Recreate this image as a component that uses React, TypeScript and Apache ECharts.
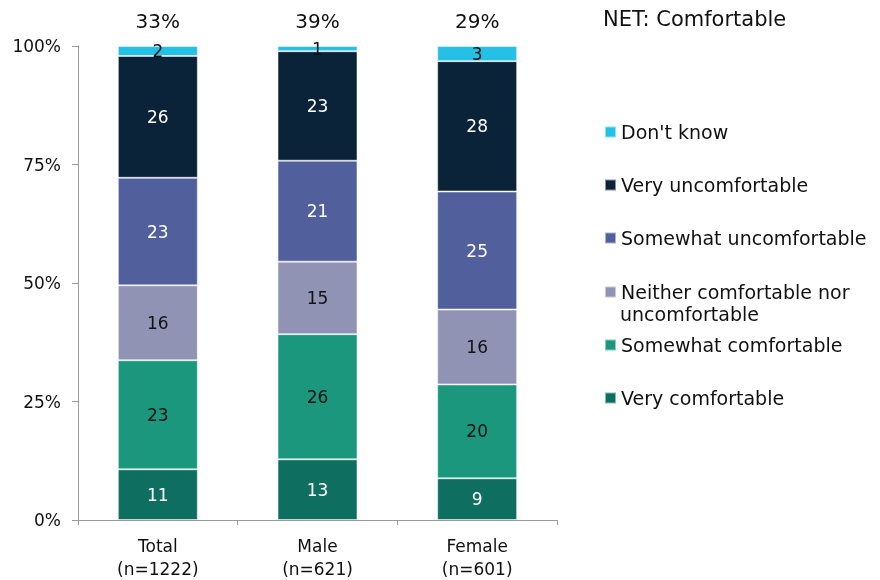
import React, { useEffect, useRef } from "react";
import * as echarts from "echarts";

const categories = ["Total\n(n=1222)", "Male\n(n=621)", "Female\n(n=601)"];
const seriesNames = [
  "Very comfortable",
  "Somewhat comfortable",
  "Neither comfortable nor uncomfortable",
  "Somewhat uncomfortable",
  "Very uncomfortable",
  "Don't know",
];
const veryComfortable = [10.7, 12.8, 8.8];
const somewhatComfortable = [23.0, 26.4, 19.8];
const neither = [15.8, 15.3, 15.8];
const somewhatUncomfortable = [22.7, 21.3, 24.9];
const veryUncomfortable = [25.7, 23.1, 27.5];
const dontKnow = [2.1, 1.1, 3.2];
const netComfortable = [33, 39, 29];
const yTicks = [0, 25, 50, 75, 100];

const colors = ["#0E6F60", "#1B977D", "#9093B3", "#51609C", "#0B2339", "#25C0E5"];
const labelColors = ["#ffffff", "#111111", "#111111", "#ffffff", "#ffffff", "#111111"];
const FONT = "'DejaVu Sans', sans-serif";

export default function App() {
  const ref = useRef<HTMLDivElement>(null);
  useEffect(() => {
    if (!ref.current) return;
    const chart = echarts.init(ref.current, undefined, { renderer: "svg" });
    const values = [veryComfortable, somewhatComfortable, neither, somewhatUncomfortable, veryUncomfortable, dontKnow];
    const barSeries = values.map((d, i) => ({
      name: seriesNames[i],
      type: "bar",
      stack: "total",
      barWidth: 80,
      data: d,
      itemStyle: { color: colors[i], borderColor: "rgba(255,255,255,0.5)", borderWidth: 1 },
      label: {
        show: true,
        position: "inside",
        color: labelColors[i],
        fontFamily: FONT,
        fontSize: 17,
        formatter: (p: any) => String(Math.round(p.value)),
      },
    }));
    const legendTops = [132, 185, 238, 292, 345, 398];
    const legendOrder = [5, 4, 3, 2, 1, 0];
    const legends = legendOrder.map((si, k) => ({
      data: [seriesNames[si]],
      left: 604,
      top: legendTops[k] - 11,
      orient: "vertical",
      padding: 0,
      itemWidth: 11,
      itemHeight: 11,
      itemGap: 5,
      icon: "rect",
      selectedMode: false,
      formatter: (n: string) => (n.startsWith("Neither") ? "Neither comfortable nor" : n),
      textStyle: { fontFamily: FONT, fontSize: 19, color: "#111", lineHeight: 22, padding: 0 },
    }));
    chart.setOption({
      animation: false,
      title: {
        text: "NET: Comfortable",
        left: 603,
        top: 8,
        padding: 0,
        textStyle: { fontFamily: FONT, fontSize: 21, fontWeight: "normal", color: "#111" },
      },
      legend: legends,
      graphic: [
        {
          type: "text",
          left: 620,
          top: 304,
          style: { text: "uncomfortable", font: `19px ${FONT}`, fill: "#111" },
        },
      ],
      grid: { left: 78, right: 323, top: 46, bottom: 59 },
      xAxis: {
        type: "category",
        data: categories,
        axisLine: { lineStyle: { color: "#9a9a9a", width: 1 } },
        axisTick: { show: true, length: 5, lineStyle: { color: "#9a9a9a" } },
        axisLabel: { fontFamily: FONT, fontSize: 17, color: "#111", lineHeight: 23, margin: 14 },
      },
      yAxis: {
        type: "value",
        min: 0,
        max: 100,
        interval: 25,
        axisLine: { show: true, lineStyle: { color: "#9a9a9a", width: 1 } },
        axisTick: { show: true, length: 6, lineStyle: { color: "#9a9a9a" } },
        splitLine: { show: false },
        axisLabel: {
          fontFamily: FONT,
          fontSize: 17,
          color: "#111",
          margin: 17,
          formatter: (v: number) => (yTicks.includes(v) ? `${v}%` : ""),
        },
      },
      series: [
        ...barSeries,
        {
          name: "NET",
          type: "scatter",
          data: categories.map(() => 100),
          symbolSize: 0,
          silent: true,
          itemStyle: { opacity: 1 },
          label: {
            show: true,
            position: "top",
            distance: 15,
            color: "#111",
            opacity: 1,
            fontFamily: FONT,
            fontSize: 20,
            formatter: (p: any) => `${netComfortable[p.dataIndex]}%`,
          },
        },
      ],
    });
    return () => chart.dispose();
  }, []);
  return <div ref={ref} style={{ position: "fixed", left: 0, top: 0, width: 880, height: 580 }} />;
}
